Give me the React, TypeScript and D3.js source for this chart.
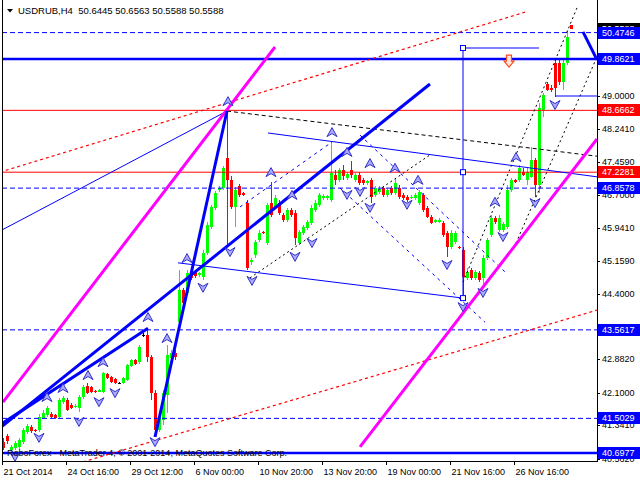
import React from 'react';
import * as d3 from 'd3';

// USDRUB H4 candles (bar 0 = 21 Oct 2014)
const opens = [
  40.95, 41.09, 40.77, 40.81, 40.84, 40.95, 41.19, 41.30, 41.23, 41.23,
  41.51, 41.58, 41.61, 41.58, 41.53, 41.88, 41.93, 41.81, 41.77, 41.74,
  42.00, 42.26, 42.23, 42.14, 42.12, 42.12, 42.53, 42.47, 42.42, 42.33,
  42.33, 42.40, 42.72, 42.86, 42.81, 43.44, 43.44, 42.93, 42.09, 41.23,
  41.47, 42.05, 42.91, 43.02, 43.74, 44.49, 44.42, 44.91, 44.91, 44.84,
  44.79, 45.35, 45.95, 46.40, 46.81, 46.86, 47.56, 47.05, 46.42, 46.91,
  46.74, 46.51, 45.14, 45.30, 45.65, 45.84, 45.58, 46.51, 46.42, 46.51,
  46.23, 46.12, 46.35, 46.28, 45.58, 45.81, 45.93, 46.05, 46.35, 46.47,
  46.63, 46.63, 46.58, 47.16, 47.05, 47.28, 47.09, 47.28, 47.05, 47.16,
  47.05, 46.98, 47.05, 46.70, 46.77, 46.86, 46.70, 46.86, 46.74, 46.86,
  46.70, 46.65, 46.63, 46.63, 46.51, 46.70, 46.40, 46.19, 46.07, 46.07,
  46.05, 45.81, 45.49, 45.60, 45.49, 45.42, 44.77, 44.95, 44.77, 44.88,
  44.77, 45.23, 45.77, 46.16, 45.88, 45.88, 45.95, 46.81, 47.05, 47.05,
  47.23, 47.05, 47.12, 47.51, 46.93, 48.68, 49.28, 49.19, 49.77, 49.77,
  49.33, 49.77, 50.6445,
];
const highs = [
  41.05, 41.14, 40.88, 40.98, 41.05, 41.28, 41.37, 41.35, 41.26, 41.61,
  41.70, 41.79, 41.65, 41.61, 41.98, 42.02, 41.98, 41.86, 41.84, 42.05,
  42.28, 42.33, 42.26, 42.16, 42.19, 42.58, 42.56, 42.49, 42.44, 42.35,
  42.47, 42.77, 42.88, 42.88, 43.21, 43.49, 43.61, 42.98, 42.16, 41.58,
  42.16, 43.21, 43.09, 43.09, 44.95, 44.54, 44.95, 44.95, 44.95, 44.91,
  45.42, 46.07, 46.47, 46.79, 46.91, 47.37, 48.65, 47.14, 46.88, 46.95,
  46.77, 46.58, 45.23, 45.65, 45.88, 45.86, 46.51, 47.00, 46.70, 46.58,
  46.28, 46.40, 46.40, 46.35, 45.88, 46.00, 46.12, 46.47, 46.58, 46.74,
  46.72, 46.70, 47.93, 47.28, 47.33, 47.40, 47.23, 47.49, 47.21, 47.23,
  47.09, 47.05, 47.09, 46.91, 46.91, 46.91, 46.86, 46.91, 47.09, 46.93,
  46.74, 46.70, 46.70, 46.74, 46.81, 46.74, 46.44, 46.23, 46.14, 46.16,
  46.09, 45.86, 45.88, 45.86, 45.51, 45.49, 45.00, 45.00, 44.95, 44.93,
  45.30, 45.70, 46.23, 46.21, 46.23, 46.07, 46.93, 47.09, 47.07, 47.40,
  47.33, 47.33, 47.82, 47.56, 48.84, 49.07, 49.33, 49.26, 49.84, 49.84,
  49.84, 50.54, 50.6563,
];
const lows = [
  40.77, 40.91, 40.70, 40.77, 40.79, 40.91, 41.14, 41.16, 41.19, 41.19,
  41.49, 41.53, 41.51, 41.49, 41.51, 41.84, 41.67, 41.72, 41.74, 41.65,
  41.95, 42.07, 42.09, 42.09, 42.12, 42.09, 42.42, 42.33, 42.30, 42.30,
  42.30, 42.37, 42.70, 42.74, 42.77, 43.40, 42.81, 41.93, 41.14, 41.19,
  41.35, 41.63, 42.86, 42.86, 43.68, 44.02, 44.37, 44.72, 44.77, 44.79,
  44.72, 45.30, 45.91, 46.35, 46.77, 46.81, 45.53, 46.37, 45.95, 46.65,
  46.67, 44.95, 45.07, 45.23, 45.60, 45.79, 45.53, 46.19, 46.37, 46.23,
  46.07, 46.07, 46.19, 45.53, 45.53, 45.77, 45.88, 46.00, 46.30, 46.42,
  46.58, 46.58, 46.54, 46.93, 47.00, 47.05, 47.05, 47.09, 47.00, 46.93,
  46.93, 46.93, 46.51, 46.65, 46.72, 46.65, 46.65, 46.70, 46.70, 46.61,
  46.58, 46.54, 46.61, 46.58, 46.47, 46.30, 46.16, 46.02, 46.05, 46.05,
  45.72, 45.26, 45.44, 45.56, 45.44, 44.33, 44.72, 44.72, 44.72, 44.67,
  44.61, 45.19, 45.72, 46.02, 45.84, 45.84, 45.91, 46.77, 46.98, 47.00,
  47.14, 46.93, 47.09, 46.65, 46.74, 48.51, 49.12, 49.09, 48.98, 49.26,
  49.14, 49.72, 50.5588,
];
const closes = [
  40.81, 40.98, 40.84, 40.93, 41.00, 41.23, 41.33, 41.21, 41.21, 41.53,
  41.63, 41.74, 41.53, 41.51, 41.93, 41.98, 41.70, 41.74, 41.79, 42.00,
  42.23, 42.09, 42.12, 42.12, 42.16, 42.56, 42.44, 42.35, 42.33, 42.33,
  42.44, 42.74, 42.86, 42.77, 43.16, 43.44, 42.93, 42.09, 41.23, 41.53,
  42.09, 42.98, 43.02, 42.93, 44.49, 44.19, 44.88, 44.77, 44.81, 44.88,
  45.35, 46.00, 46.42, 46.74, 46.86, 47.33, 47.05, 46.42, 46.81, 46.70,
  46.70, 45.00, 45.19, 45.60, 45.81, 45.81, 46.47, 46.23, 46.63, 46.28,
  46.12, 46.35, 46.23, 45.70, 45.84, 45.95, 46.07, 46.40, 46.51, 46.70,
  46.67, 46.67, 47.21, 47.05, 47.28, 47.14, 47.19, 47.16, 47.16, 46.98,
  46.98, 47.02, 46.65, 46.86, 46.84, 46.70, 46.81, 46.74, 46.98, 46.65,
  46.63, 46.58, 46.65, 46.70, 46.77, 46.35, 46.19, 46.05, 46.12, 46.12,
  45.77, 45.49, 45.81, 45.81, 45.47, 44.79, 44.91, 44.77, 44.91, 44.72,
  45.23, 45.65, 46.16, 46.07, 46.16, 46.02, 46.81, 47.05, 47.00, 47.33,
  47.16, 47.23, 47.51, 46.93, 48.72, 49.02, 49.14, 49.14, 49.19, 49.33,
  49.77, 50.37, 50.5588,
];

// price scale
const priceTicks = [40.562, 41.341, 42.1, 42.882, 43.621, 44.4, 45.159, 45.941, 46.7, 47.459, 48.241, 49.0, 49.782];
const timeLabels = ['21 Oct 2014', '24 Oct 16:00', '29 Oct 12:00', '6 Nov 00:00', '10 Nov 20:00', '13 Nov 20:00', '19 Nov 00:00', '21 Nov 16:00', '26 Nov 16:00'];
const timeLabelBars = [0, 16, 32, 48, 64, 80, 96, 112, 128];

// horizontal levels
const blueDashedLevels = [50.4746, 46.8578, 43.5617, 41.5029];
const blueSolidLevels = [49.8621, 40.6977];
const redLevels = [48.6662, 47.2281];

// trend lines: [bar1, price1, bar2, price2]
const magentaLines = [
  [0, 41.88, 68, 50.14],
  [89.25, 40.84, 148.5, 48.0],
];
const blueThickLines = [
  [-0.75, 41.28, 106.75, 49.28],
  [-0.75, 41.35, 36.25, 43.6],
  [38, 41.07, 56, 48.65],
  [145, 50.49, 148.5, 49.84],
];
const blueThinLines = [
  [-0.75, 45.86, 56, 48.65],
  [43.75, 45.12, 115, 44.3],
  [66.25, 48.14, 148.5, 47.12],
  [115, 50.116, 134, 50.116],
  [138, 49.0, 148.5, 49.0],
  [115, 44.3, 115, 50.116],
];
const blueDashedLines = [
  [59.25, 46.42, 82.25, 47.93],
  [89.25, 48.09, 125.5, 44.91],
  [84.25, 46.86, 120.5, 43.74],
];
const redDottedLines = [
  [-0.75, 47.23, 130.5, 50.95],
  [20, 40.49, 148.5, 44.02],
];
const blackDashedLines = [
  [56, 48.65, 148.5, 47.6],
];
const blackDottedLines = [
  [115, 44.67, 143.5, 51.05],
  [128.25, 45.58, 148.5, 49.91],
  [61.75, 44.77, 106.75, 47.63],
];

// arrow marks: [bar, price]
const upArrows = [
  [11, 42.0], [15, 42.21], [21.25, 42.51], [25, 42.81], [36.25, 43.86], [41, 43.37],
  [46, 45.23], [56.25, 48.88], [67, 47.23], [72.25, 46.7], [82.25, 48.16], [86, 47.7],
  [91.75, 47.44], [98, 47.33], [103.75, 47.05], [123, 46.54], [128.25, 47.58],
];
const downArrows = [
  [3, 40.61], [9, 41.05], [19, 41.42], [24, 41.88], [28, 42.09], [38, 40.95],
  [50, 44.54], [56.75, 45.37], [62.25, 44.7], [73, 45.26], [77.25, 45.58], [86, 46.7],
  [89.25, 46.77], [91.75, 46.4], [101, 46.47], [111, 45.07], [115, 44.09], [120, 44.42],
  [125, 45.72], [133, 46.51], [138, 48.79],
];
const anchorSquares = [[115, 50.116], [115, 47.2281], [115, 44.3]];
const sellMark = [126.5, 49.81];

const W = 640;
const H = 480;
const plotLeft = 2;
const plotRight = 597;
const plotBottom = 461;
const font = '"Liberation Sans", Arial, sans-serif';

export default function App() {
  const n = opens.length;
  const x = d3.scaleLinear().domain([0, n - 1]).range([3, 571]);
  const y = d3.scaleLinear().domain([40.5116, 51.2326]).range([plotBottom, 0]);

  const seg = (l: number[], i: number, props: any) => (
    <line key={i} x1={x(l[0])} y1={y(l[1])} x2={x(l[2])} y2={y(l[3])} {...props} />
  );

  const lastClose = closes[n - 1];
  const boxLevels = [...redLevels, ...blueDashedLevels, ...blueSolidLevels];
  // MT4 draws the scale labels underneath the level boxes; skip those fully covered
  const visibleTicks = priceTicks.filter(p => boxLevels.every(b => Math.abs(y(b) - y(p)) > 5));

  const priceBox = (p: number, color: string, key: string) => (
    <g key={key}>
      <rect x={598} y={Math.round(y(p)) - 6} width={42} height={12} fill={color} />
      <text x={602} y={y(p)} dominantBaseline="central" fill="#fff" fontSize={9} fontFamily={font}>
        {p.toFixed(4)}
      </text>
    </g>
  );

  return (
    <div style={{ position: 'absolute', left: 0, top: 0 }}>
      <svg width={W} height={H} style={{ display: 'block', background: '#fff' }}>
        <defs>
          <clipPath id="plot">
            <rect x={plotLeft} y={0} width={plotRight - plotLeft} height={plotBottom} />
          </clipPath>
          <clipPath id="lastbox">
            <rect x={598} y={0} width={42} height={Math.round(y(blueDashedLevels[0])) - 6} />
          </clipPath>
        </defs>

        <g clipPath="url(#plot)">
          {/* candles */}
          <g shapeRendering="crispEdges">
            {d3.range(n).map(i => {
              const cx = Math.round(x(i));
              const o = opens[i], c = closes[i];
              const col = c > o ? '#00ff00' : c < o ? '#ff0000' : '#000000';
              const top = Math.round(y(Math.max(o, c)));
              const bot = Math.round(y(Math.min(o, c)));
              return (
                <g key={i}>
                  <rect x={cx} y={Math.round(y(highs[i]))} width={1}
                    height={Math.max(1, Math.round(y(lows[i])) - Math.round(y(highs[i])))} fill={col} />
                  <rect x={cx - 1} y={top} width={3} height={Math.max(1, bot - top)} fill={col} />
                </g>
              );
            })}
          </g>

          {/* horizontal levels */}
          {redLevels.map((p, i) => (
            <line key={'r' + i} x1={plotLeft} x2={plotRight} y1={y(p)} y2={y(p)} stroke="#ff0000" strokeWidth={1} />
          ))}
          {blueDashedLevels.map((p, i) => (
            <line key={'bd' + i} x1={plotLeft} x2={plotRight} y1={y(p)} y2={y(p)} stroke="#0000ff" strokeWidth={1} strokeDasharray="5,3" />
          ))}
          {blueSolidLevels.map((p, i) => (
            <line key={'bs' + i} x1={plotLeft} x2={plotRight} y1={y(p)} y2={y(p)} stroke="#0000ff" strokeWidth={2.5} />
          ))}

          {/* trend lines */}
          {redDottedLines.map((l, i) => seg(l, i, { stroke: '#ff0000', strokeWidth: 1.2, strokeDasharray: '3,3' }))}
          {blackDashedLines.map((l, i) => seg(l, i, { stroke: '#000', strokeWidth: 1, strokeDasharray: '4,3' }))}
          {blackDottedLines.map((l, i) => seg(l, i, { stroke: '#000', strokeWidth: 1, strokeDasharray: '2,3' }))}
          {blueDashedLines.map((l, i) => seg(l, i, { stroke: '#0000ff', strokeWidth: 1, strokeDasharray: '3,4' }))}
          {blueThinLines.map((l, i) => seg(l, i, { stroke: '#0000ff', strokeWidth: 1 }))}
          {magentaLines.map((l, i) => seg(l, i, { stroke: '#ff00ff', strokeWidth: 3 }))}
          {blueThickLines.map((l, i) => seg(l, i, { stroke: '#0000ff', strokeWidth: 3 }))}

          {/* arrows */}
          {upArrows.map((a, i) => (
            <path key={'u' + i} transform={`translate(${x(a[0])},${y(a[1])})`}
              d="M0,-4.5 L5,4.5 L0,1.5 L-5,4.5 Z" fill="#a9a9ff" stroke="#3232c8" strokeWidth={1} />
          ))}
          {downArrows.map((a, i) => (
            <path key={'d' + i} transform={`translate(${x(a[0])},${y(a[1])})`}
              d="M0,4.5 L5,-4.5 L0,-1.5 L-5,-4.5 Z" fill="#a9a9ff" stroke="#3232c8" strokeWidth={1} />
          ))}
          {anchorSquares.map((s, i) => (
            <rect key={'s' + i} x={x(s[0]) - 2.5} y={y(s[1]) - 2.5} width={5} height={5} fill="#fff" stroke="#0000ff" strokeWidth={1} />
          ))}
          <path transform={`translate(${x(sellMark[0])},${y(sellMark[1])})`}
            d="M-2.5,-6 H2.5 V0 H5 L0,6 L-5,0 H-2.5 Z" fill="#ffe6dc" stroke="#ff4a1a" strokeWidth={1.2} />
        </g>

        {/* watermark */}
        <text x={7} y={456} fontSize={9} fontFamily={font} fill="#000">
          RoboForex - MetaTrader 4, © 2001-2014, MetaQuotes Software Corp.
        </text>

        {/* frame */}
        <g shapeRendering="crispEdges" stroke="#000">
          <line x1={plotLeft + 0.5} x2={plotLeft + 0.5} y1={0} y2={plotBottom} />
          <line x1={plotRight + 0.5} x2={plotRight + 0.5} y1={0} y2={plotBottom + 1} />
          <line x1={plotLeft} x2={plotRight + 1} y1={plotBottom + 0.5} y2={plotBottom + 0.5} />
        </g>

        {/* price axis */}
        {priceTicks.map((p, i) => (
          <line key={'tk' + i} x1={plotRight} x2={plotRight + 3} y1={Math.round(y(p)) + 0.5} y2={Math.round(y(p)) + 0.5} stroke="#000" />
        ))}
        {visibleTicks.map((p, i) => (
          <text key={'pt' + i} x={602} y={y(p)} dominantBaseline="central" fontSize={9} fontFamily={font} fill="#000">
            {p.toFixed(4)}
          </text>
        ))}
        {/* current price box, mostly hidden under the 50.4746 box */}
        <g clipPath="url(#lastbox)">{priceBox(lastClose, '#000000', 'last')}</g>
        {redLevels.map((p, i) => priceBox(p, '#ff0000', 'rb' + i))}
        {blueDashedLevels.map((p, i) => priceBox(p, '#0000ff', 'bdb' + i))}
        {blueSolidLevels.map((p, i) => priceBox(p, '#0000ff', 'bsb' + i))}

        {/* time axis */}
        {timeLabelBars.map((b, i) => {
          const tx = Math.round(x(b)) - 0.5;
          return (
            <g key={'tl' + i}>
              <line x1={tx} x2={tx} y1={plotBottom} y2={plotBottom + 4} stroke="#000" />
              <text x={tx + 1} y={475} fontSize={9} fontFamily={font} fill="#000">{timeLabels[i]}</text>
            </g>
          );
        })}

        {/* header */}
        <path d="M7,9 L13,9 L10,12.5 Z" fill="#000" />
        <text x={18} y={14} fontSize={9.5} fontFamily={font} fill="#000" style={{ whiteSpace: 'pre' }}>
          {`USDRUB,H4  ${opens[n - 1].toFixed(4)} ${highs[n - 1].toFixed(4)} ${lows[n - 1].toFixed(4)} ${closes[n - 1].toFixed(4)}`}
        </text>
      </svg>
    </div>
  );
}
